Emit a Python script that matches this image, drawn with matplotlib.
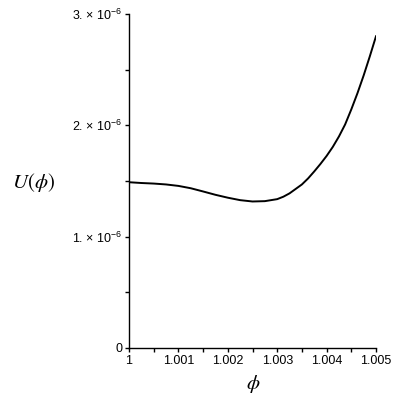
import numpy as np
import matplotlib
matplotlib.use("Agg")
import matplotlib.pyplot as plt
from matplotlib.ticker import MultipleLocator, FixedLocator

# values (U in units of 1e-6)
phi = [1.0, 1.00025, 1.0005, 1.00075, 1.001, 1.00125, 1.0015, 1.00175,
       1.002, 1.00225, 1.0025, 1.00275, 1.003, 1.003125, 1.00325, 1.003375,
       1.0035, 1.003625, 1.00375, 1.003875, 1.004, 1.004125, 1.00425,
       1.004375, 1.0045, 1.004625, 1.00475, 1.004875, 1.005]
U = [1.489, 1.482, 1.477, 1.469, 1.456, 1.435, 1.406, 1.376,
     1.350, 1.328, 1.316, 1.319, 1.337, 1.359, 1.389, 1.429,
     1.469, 1.523, 1.586, 1.653, 1.725, 1.806, 1.900,
     2.008, 2.143, 2.289, 2.448, 2.620, 2.800]
U = [u * 1e-6 for u in U]

x_ticks = [1.0, 1.001, 1.002, 1.003, 1.004, 1.005]
x_labels = ["1", "1.001", "1.002", "1.003", "1.004", "1.005"]
y_ticks = [0.0, 1e-6, 2e-6, 3e-6]
y_labels = ["0", r"1. $\times$ 10$^{-6}$", r"2. $\times$ 10$^{-6}$", r"3. $\times$ 10$^{-6}$"]

plt.rcParams['font.family'] = ['Liberation Sans', 'DejaVu Sans']
plt.rcParams['mathtext.fontset'] = 'custom'
plt.rcParams['mathtext.rm'] = 'Liberation Sans'

fig = plt.figure(figsize=(4, 4), dpi=100)
ax = fig.add_axes([129 / 400, 52 / 400, 247 / 400, 334 / 400])

ax.plot(phi, U, color='black', linewidth=1.4)

ax.set_xlim(1.0, 1.005)
ax.set_ylim(0, 3e-6)
ax.spines['top'].set_visible(False)
ax.spines['right'].set_visible(False)
for s in ['left', 'bottom']:
    ax.spines[s].set_linewidth(1.0)

ax.xaxis.set_major_locator(FixedLocator(x_ticks))
ax.set_xticklabels(x_labels)
ax.xaxis.set_minor_locator(MultipleLocator(0.0005))
ax.yaxis.set_major_locator(FixedLocator(y_ticks))
ax.set_yticklabels(y_labels)
ax.yaxis.set_minor_locator(MultipleLocator(0.5e-6))
ax.tick_params(which='both', direction='out', length=3, width=1, labelsize=9, pad=2)

fig.text(33 / 400, 1 - 183 / 400, r'$U(\phi)$', fontsize=15, ha='center', va='center',
         math_fontfamily='stix')
fig.text(253 / 400, 1 - 384 / 400, r'$\phi$', fontsize=15, ha='center', va='center',
         math_fontfamily='stix')

fig.savefig("out.png", dpi=100)
